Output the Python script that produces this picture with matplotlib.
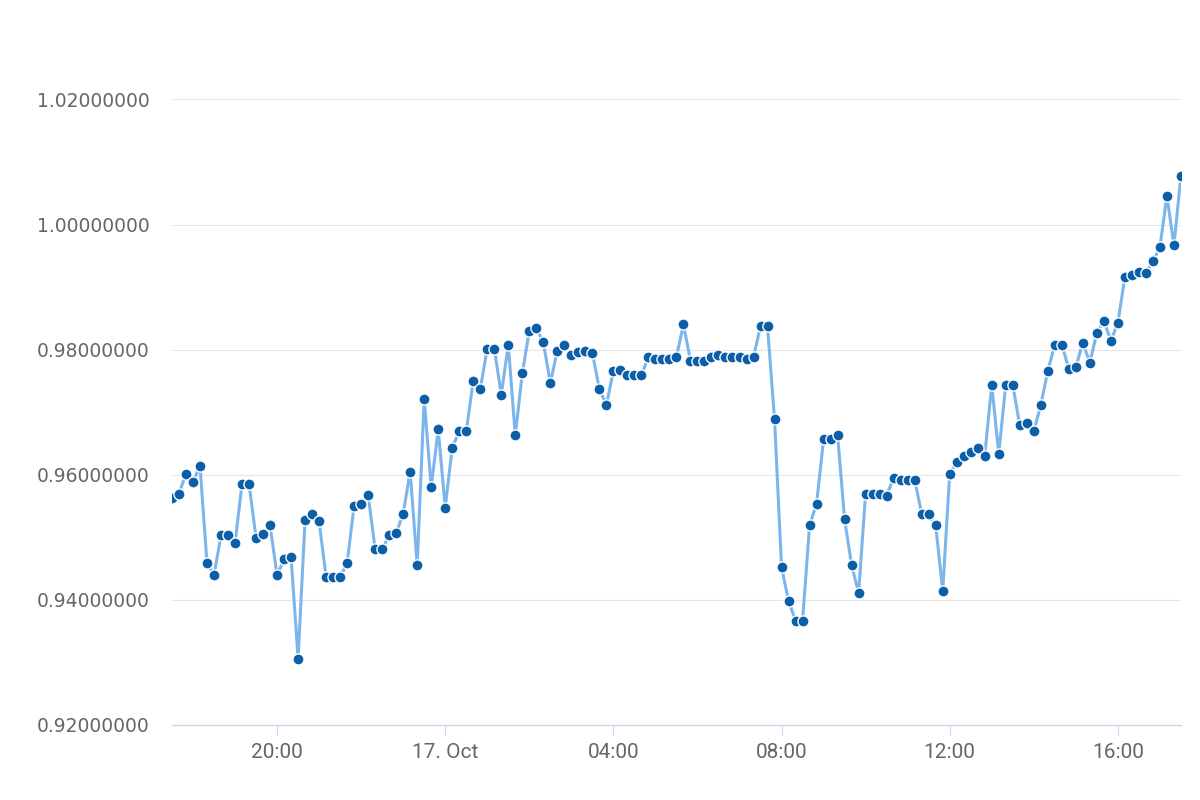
import matplotlib
matplotlib.use('Agg')
import matplotlib.pyplot as plt
from matplotlib import font_manager
from matplotlib.ticker import FormatStrFormatter
import pandas as pd

# 10-minute samples, 16 Oct 17:30 -> 17 Oct 17:30
start = '2023-10-16 17:30'
n_points = 145

values = [
    0.95635, 0.95698, 0.96016, 0.95889, 0.96143, 0.94587, 0.94397, 0.95032, 0.95032, 0.94905,
    0.95852, 0.95852, 0.94995, 0.95059, 0.95190, 0.94397, 0.94646, 0.94683, 0.93063, 0.95281,
    0.95381, 0.95254, 0.94365, 0.94365, 0.94365, 0.94587, 0.95508, 0.95540, 0.95673, 0.94810,
    0.94810, 0.95032, 0.95063, 0.95381, 0.96048, 0.94556, 0.97210, 0.95800, 0.96726, 0.95476,
    0.96435, 0.96694, 0.96694, 0.97500, 0.97371, 0.98016, 0.98016, 0.97281, 0.98081, 0.96629,
    0.97624, 0.98302, 0.98339, 0.98119, 0.97468, 0.97984, 0.98081, 0.97919, 0.97958, 0.97984,
    0.97952, 0.97371, 0.97113, 0.97661, 0.97673, 0.97597, 0.97597, 0.97592, 0.97887, 0.97850,
    0.97850, 0.97850, 0.97887, 0.98403, 0.97823, 0.97823, 0.97823, 0.97887, 0.97919, 0.97887,
    0.97887, 0.97887, 0.97855, 0.97887, 0.98371, 0.98371, 0.96887, 0.94524, 0.93984, 0.93667,
    0.93667, 0.95190, 0.95540, 0.96565, 0.96565, 0.96629, 0.95286, 0.94556, 0.94111, 0.95698,
    0.95698, 0.95698, 0.95667, 0.95952, 0.95916, 0.95916, 0.95916, 0.95381, 0.95381, 0.95190,
    0.94143, 0.96016, 0.96200, 0.96306, 0.96371, 0.96435, 0.96306, 0.97435, 0.96339, 0.97435,
    0.97435, 0.96790, 0.96823, 0.96694, 0.97113, 0.97661, 0.98079, 0.98079, 0.97694, 0.97726,
    0.98111, 0.97794, 0.98270, 0.98460, 0.98143, 0.98429, 0.99159, 0.99190, 0.99244, 0.99222,
    0.99413, 0.99635, 1.00460, 0.99667, 1.00778,
]

y_ticks = [0.92, 0.94, 0.96, 0.98, 1.00, 1.02]
tick_times = ['2023-10-16 20:00', '2023-10-17 00:00', '2023-10-17 04:00',
              '2023-10-17 08:00', '2023-10-17 12:00', '2023-10-17 16:00']
tick_labels = ['20:00', '17. Oct', '04:00', '08:00', '12:00', '16:00']

times = pd.date_range(start, periods=n_points, freq='10min')

names = {f.name for f in font_manager.fontManager.ttflist}
xfont = 'Roboto' if 'Roboto' in names else 'DejaVu Sans'

fig = plt.figure(figsize=(12, 8), dpi=100)
ax = fig.add_axes([0.1433, 0.09375, 0.8408, 0.8875])

ax.plot(times, values, color='#7cb5ec', lw=2.2, zorder=3,
        marker='o', markersize=8, markerfacecolor='#0b5ea8',
        markeredgecolor='white', markeredgewidth=1.0)

ax.set_xlim(times[0], times[-1])
ax.set_ylim(0.92, 1.0335)
ax.set_yticks(y_ticks)
ax.yaxis.set_major_formatter(FormatStrFormatter('%.8f'))

ax.grid(axis='y', color='#e6e6e6', lw=0.8, zorder=0)
for s in ['top', 'right', 'left']:
    ax.spines[s].set_visible(False)
ax.spines['bottom'].set_color('#ccd6eb')
ax.spines['bottom'].set_linewidth(1.0)

ax.tick_params(axis='y', length=0, pad=16, labelsize=13.5, labelcolor='#666666')
ax.tick_params(axis='x', length=7, width=0.8, color='#ccd6eb', pad=6,
               labelsize=15, labelcolor='#666666')

ax.set_xticks(pd.to_datetime(tick_times))
ax.set_xticklabels(tick_labels, fontfamily=xfont)

fig.savefig('out.png', dpi=100)
